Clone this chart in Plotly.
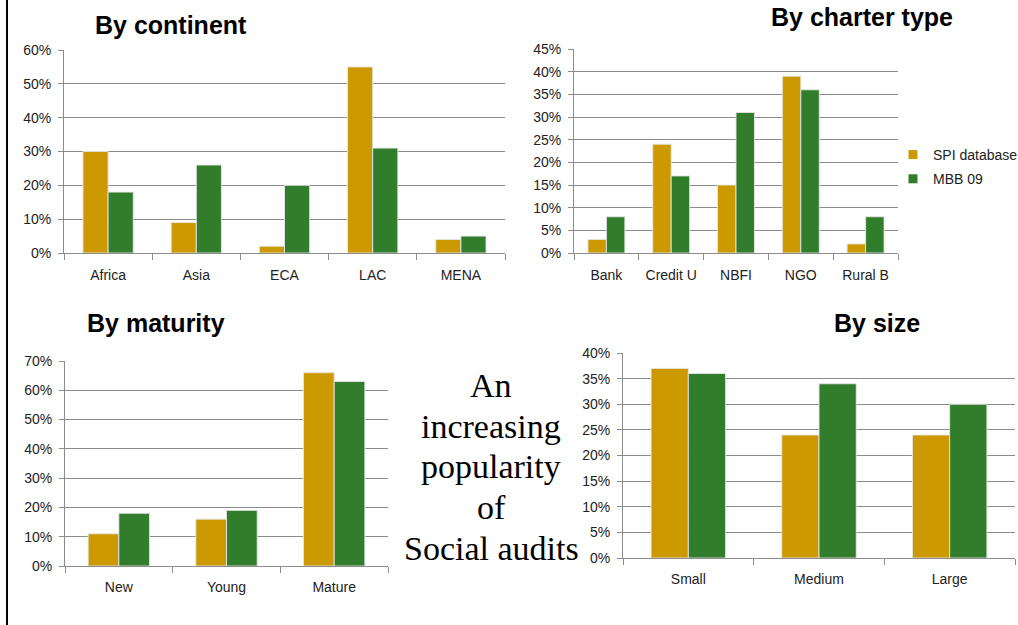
import plotly.graph_objects as go

W, H = 1018, 625

continents = ["Africa", "Asia", "ECA", "LAC", "MENA"]
cont_spi = [30, 9, 2, 55, 4]
cont_mbb = [18, 26, 20, 31, 5]

charters = ["Bank", "Credit U", "NBFI", "NGO", "Rural B"]
char_spi = [3, 24, 15, 39, 2]
char_mbb = [8, 17, 31, 36, 8]

maturity = ["New", "Young", "Mature"]
mat_spi = [11, 16, 66]
mat_mbb = [18, 19, 63]

sizes = ["Small", "Medium", "Large"]
size_spi = [37, 24, 24]
size_mbb = [36, 34, 30]

series_names = ["SPI database", "MBB 09"]
GOLD = "#CC9900"
GREEN = "#317D2B"

def px_x(a, b):
    return [a / W, b / W]

def px_y(top, bottom):
    return [1 - bottom / H, 1 - top / H]

panels = [
    dict(cats=continents, spi=cont_spi, mbb=cont_mbb, xd=px_x(64, 505), yd=px_y(50, 253), rng=60, dt=10, so=9),
    dict(cats=charters, spi=char_spi, mbb=char_mbb, xd=px_x(574, 898), yd=px_y(49, 253), rng=45, dt=5, so=9),
    dict(cats=maturity, spi=mat_spi, mbb=mat_mbb, xd=px_x(65, 388), yd=px_y(361, 566), rng=70, dt=10, so=8),
    dict(cats=sizes, spi=size_spi, mbb=size_mbb, xd=px_x(623, 1015), yd=px_y(353, 558), rng=40, dt=5, so=8),
]

fig = go.Figure()
layout = dict(
    width=W, height=H,
    margin=dict(l=0, r=0, t=0, b=0, autoexpand=False),
    paper_bgcolor="white", plot_bgcolor="white",
    barmode="group", bargap=0.43, bargroupgap=0,
    font=dict(family="Liberation Sans, Arial", size=14, color="#222222"),
    showlegend=True,
    legend=dict(x=893 / W, y=1 - 139 / H, xanchor="left", yanchor="top",
                font=dict(size=14, color="#222222"), bgcolor="rgba(0,0,0,0)",
                itemwidth=30, tracegroupgap=3),
)

for i, p in enumerate(panels):
    n = "" if i == 0 else str(i + 1)
    xa = "x" + n
    ya = "y" + n
    for vals, name, col in [(p["spi"], series_names[0], GOLD), (p["mbb"], series_names[1], GREEN)]:
        fig.add_trace(go.Bar(
            x=p["cats"], y=vals, name=name, xaxis=xa, yaxis=ya,
            marker=dict(color=col, line=dict(color="rgba(230,230,230,0.9)", width=1)),
            showlegend=False, legendgroup=name,
        ))
    layout["xaxis" + n] = dict(
        domain=p["xd"], anchor=ya, type="category",
        showline=True, linecolor="#8c8c8c", linewidth=1,
        ticks="outside", tickson="boundaries", ticklen=6, tickcolor="#8c8c8c",
        ticklabelstandoff=p["so"],
        showgrid=False, tickfont=dict(size=14, color="#222222"), fixedrange=True,
    )
    layout["yaxis" + n] = dict(
        domain=p["yd"], anchor=xa, range=[0, p["rng"]], dtick=p["dt"], ticksuffix="%",
        showline=True, linecolor="#8c8c8c", linewidth=1,
        ticks="outside", ticklen=5, tickcolor="#8c8c8c", ticklabelstandoff=4,
        showgrid=True, gridcolor="#8c8c8c", gridwidth=1, zeroline=False,
        tickfont=dict(size=14, color="#222222"), fixedrange=True,
    )

# legend entries (square swatches like the original)
for name, col in [(series_names[0], GOLD), (series_names[1], GREEN)]:
    fig.add_trace(go.Scatter(
        x=[None], y=[None], mode="markers", name=name, xaxis="x2", yaxis="y2",
        marker=dict(symbol="square", size=9, color=col), showlegend=True, legendgroup=name,
    ))

fig.update_layout(**layout)

titles = [
    ("By continent", 93, 25),
    ("By charter type", 769, 17),
    ("By maturity", 85, 323),
    ("By size", 832, 323),
]
for t, x, y in titles:
    fig.add_annotation(text="<b>%s</b>" % t, xref="paper", yref="paper",
                       x=x / W, y=1 - y / H, xanchor="left", yanchor="middle",
                       showarrow=False, font=dict(size=25, color="black", family="Liberation Sans, Arial"))

center_lines = ["An", "increasing", "popularity", "of", "Social audits"]
center_y = [385, 426, 466, 507, 548]
for t, y in zip(center_lines, center_y):
    fig.add_annotation(text=t, xref="paper", yref="paper", x=491 / W, y=1 - y / H,
                       xanchor="center", yanchor="middle", showarrow=False,
                       font=dict(size=34, color="black", family="Liberation Serif, Times New Roman"))

fig.add_shape(type="line", xref="paper", yref="paper", x0=7 / W, x1=7 / W, y0=0, y1=1,
              line=dict(color="black", width=2))

fig.write_html("out.html")
